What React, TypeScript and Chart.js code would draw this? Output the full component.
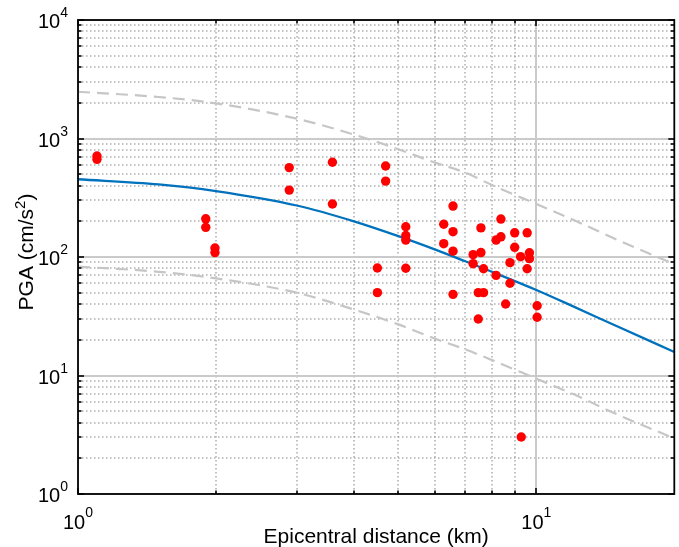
import React, { useEffect, useRef } from "react";
import { Chart, registerables } from "chart.js";

Chart.register(...registerables);

// Observed PGA records: epicentral distance (km) and PGA (cm/s^2)
const distKm = [
  1.1, 1.1, 1.9, 1.9, 1.99, 1.99, 2.89, 2.89, 3.59, 3.59, 4.69, 4.69, 4.5, 4.5,
  5.19, 5.19, 5.19, 5.19, 6.28, 6.28, 6.58, 6.58, 6.58, 6.58, 7.28, 7.28, 7.57,
  7.57, 7.67, 7.47, 7.67, 7.47, 8.37, 8.37, 8.17, 8.17, 8.97, 8.97, 8.76, 8.76,
  8.57, 9.55, 9.24, 9.66, 9.66, 9.55, 10.04, 10.04, 9.27,
];
const pgaObs = [
  711, 667, 210, 178, 119, 109, 568, 367, 630, 280, 586, 437, 80.7, 50,
  180, 152, 139, 80.3, 189, 129.5, 269, 163.5, 112, 48.4, 104.6, 87.8, 176,
  109, 79.6, 50, 50, 30, 209, 148, 139, 70, 160, 120.7, 89.6, 60,
  40.1, 160, 100.6, 108.7, 96.8, 79.6, 38.8, 31, 3.03,
];

// Attenuation relation (median) and its +/- band
const curveDist = [1, 1.5, 2, 3, 4, 5, 6, 7, 8, 10, 12, 15, 20];
const curveMedian = [453, 410, 360, 272, 200, 150, 116, 92, 75, 52.7, 38.5, 26, 15.8];
const curveUpper = [2480, 2240, 1980, 1470, 1080, 812, 627, 515, 405, 280, 207, 140, 87];
const curveLower = [83, 75, 66, 50, 36, 27, 20.5, 16.6, 13.5, 9.4, 7.0, 4.7, 2.95];

// Axis ticks
const xMajorTicks = [1, 10];
const xMajorExp = ["0", "1"];
const xMinorTicks = [2, 3, 4, 5, 6, 7, 8, 9];
const yMajorTicks = [1, 10, 100, 1000, 10000];
const yMajorExp = ["0", "1", "2", "3", "4"];
const yMinorTicks = [
  2, 3, 4, 5, 6, 7, 8, 9,
  20, 30, 40, 50, 60, 70, 80, 90,
  200, 300, 400, 500, 600, 700, 800, 900,
  2000, 3000, 4000, 5000, 6000, 7000, 8000, 9000,
];

const xTitle = "Epicentral distance (km)";
const yTitleMain = "PGA (cm/s";
const yTitleSup = "2";
const yTitleEnd = ")";

const FONT = "'Liberation Sans', Arial, Helvetica, sans-serif";

const axesPlugin = {
  id: "matlabAxes",
  beforeDatasetsDraw(chart: any) {
    const { ctx, chartArea: a, scales } = chart;
    const xs = scales.x;
    const ys = scales.y;
    ctx.save();
    ctx.beginPath();
    ctx.rect(a.left, a.top, a.right - a.left, a.bottom - a.top);
    ctx.clip();
    // minor grid (dotted)
    ctx.strokeStyle = "rgba(140,140,140,0.7)";
    ctx.lineWidth = 1.5;
    ctx.setLineDash([1.5, 2.5]);
    for (const v of xMinorTicks) {
      const px = Math.round(xs.getPixelForValue(v));
      ctx.beginPath();
      ctx.moveTo(px, a.top);
      ctx.lineTo(px, a.bottom);
      ctx.stroke();
    }
    for (const v of yMinorTicks) {
      const py = Math.round(ys.getPixelForValue(v));
      ctx.beginPath();
      ctx.moveTo(a.left, py);
      ctx.lineTo(a.right, py);
      ctx.stroke();
    }
    // major grid (solid)
    ctx.setLineDash([]);
    ctx.strokeStyle = "#cacaca";
    ctx.lineWidth = 2;
    for (const v of xMajorTicks) {
      const px = Math.round(xs.getPixelForValue(v));
      ctx.beginPath();
      ctx.moveTo(px, a.top);
      ctx.lineTo(px, a.bottom);
      ctx.stroke();
    }
    for (const v of yMajorTicks) {
      const py = Math.round(ys.getPixelForValue(v));
      ctx.beginPath();
      ctx.moveTo(a.left, py);
      ctx.lineTo(a.right, py);
      ctx.stroke();
    }
    ctx.restore();
  },
  afterDatasetsDraw(chart: any) {
    const { ctx, chartArea: a, scales } = chart;
    const xs = scales.x;
    const ys = scales.y;
    ctx.save();
    ctx.strokeStyle = "#000";
    ctx.lineWidth = 1.6;
    const tick = (x1: number, y1: number, x2: number, y2: number) => {
      ctx.beginPath();
      ctx.moveTo(x1, y1);
      ctx.lineTo(x2, y2);
      ctx.stroke();
    };
    const MAJ = 6;
    const MIN = 3.5;
    for (const v of xMajorTicks) {
      const px = Math.round(xs.getPixelForValue(v));
      tick(px, a.bottom, px, a.bottom - MAJ);
      tick(px, a.top, px, a.top + MAJ);
    }
    for (const v of xMinorTicks) {
      const px = Math.round(xs.getPixelForValue(v));
      tick(px, a.bottom, px, a.bottom - MIN);
      tick(px, a.top, px, a.top + MIN);
    }
    for (const v of yMajorTicks) {
      const py = Math.round(ys.getPixelForValue(v));
      tick(a.left, py, a.left + MAJ, py);
      tick(a.right, py, a.right - MAJ, py);
    }
    for (const v of yMinorTicks) {
      const py = Math.round(ys.getPixelForValue(v));
      tick(a.left, py, a.left + MIN, py);
      tick(a.right, py, a.right - MIN, py);
    }
    // frame
    ctx.lineWidth = 1.8;
    ctx.strokeRect(a.left, a.top, a.right - a.left, a.bottom - a.top);

    // tick labels
    ctx.fillStyle = "#000";
    const big = `20px ${FONT}`;
    const small = `14px ${FONT}`;
    const title = `21px ${FONT}`;
    const titleSmall = `15px ${FONT}`;
    yMajorTicks.forEach((v, i) => {
      const py = ys.getPixelForValue(v);
      const right = a.left - 10;
      ctx.font = small;
      const ew = ctx.measureText(yMajorExp[i]).width;
      ctx.textAlign = "left";
      ctx.textBaseline = "alphabetic";
      ctx.fillText(yMajorExp[i], right - ew, py - 3);
      ctx.font = big;
      ctx.textAlign = "right";
      ctx.fillText("10", right - ew, py + 8);
    });
    xMajorTicks.forEach((v, i) => {
      const px = xs.getPixelForValue(v);
      ctx.font = big;
      const bw = ctx.measureText("10").width;
      ctx.font = small;
      const ew = ctx.measureText(xMajorExp[i]).width;
      const start = px - (bw + ew) / 2;
      ctx.font = big;
      ctx.textAlign = "left";
      ctx.textBaseline = "alphabetic";
      ctx.fillText("10", start, a.bottom + 35);
      ctx.font = small;
      ctx.fillText(xMajorExp[i], start + bw, a.bottom + 23);
    });
    // x title
    ctx.font = title;
    ctx.textAlign = "center";
    ctx.textBaseline = "alphabetic";
    ctx.fillText(xTitle, (a.left + a.right) / 2, a.bottom + 49);
    // y title (rotated)
    ctx.save();
    ctx.translate(33, (a.top + a.bottom) / 2 - 5);
    ctx.rotate(-Math.PI / 2);
    ctx.font = title;
    const w1 = ctx.measureText(yTitleMain).width;
    const w3 = ctx.measureText(yTitleEnd).width;
    ctx.font = titleSmall;
    const w2 = ctx.measureText(yTitleSup).width;
    const total = w1 + w2 + w3;
    let cx = -total / 2;
    ctx.textAlign = "left";
    ctx.font = title;
    ctx.fillText(yTitleMain, cx, 0);
    cx += w1;
    ctx.font = titleSmall;
    ctx.fillText(yTitleSup, cx, -8);
    cx += w2;
    ctx.font = title;
    ctx.fillText(yTitleEnd, cx, 0);
    ctx.restore();
    ctx.restore();
  },
};

export default function App() {
  const ref = useRef<HTMLCanvasElement | null>(null);
  useEffect(() => {
    if (!ref.current) return;
    const pts = distKm.map((d, i) => ({ x: d, y: pgaObs[i] }));
    const med = curveDist.map((d, i) => ({ x: d, y: curveMedian[i] }));
    const up = curveDist.map((d, i) => ({ x: d, y: curveUpper[i] }));
    const lo = curveDist.map((d, i) => ({ x: d, y: curveLower[i] }));
    const dashed = {
      showLine: true,
      pointRadius: 0,
      borderColor: "#c6c6c6",
      borderWidth: 2.2,
      borderDash: [12, 7],
      cubicInterpolationMode: "monotone",
      order: 3,
    };
    const chart = new Chart(ref.current, {
      type: "scatter",
      data: {
        datasets: [
          {
            label: "Observed",
            data: pts,
            pointRadius: 4.7,
            pointBackgroundColor: "#ff0000",
            pointBorderWidth: 0,
            borderColor: "#ff0000",
            showLine: false,
            order: 0,
          },
          {
            label: "Median",
            data: med,
            showLine: true,
            pointRadius: 0,
            borderColor: "#0072BD",
            borderWidth: 2.3,
            cubicInterpolationMode: "monotone",
            order: 1,
          },
          { label: "Upper", data: up, ...dashed } as any,
          { label: "Lower", data: lo, ...dashed } as any,
        ],
      },
      options: {
        animation: false,
        responsive: true,
        maintainAspectRatio: false,
        devicePixelRatio: 1,
        layout: { padding: { left: 78, top: 20, right: 3, bottom: 53 } },
        plugins: {
          legend: { display: false },
          tooltip: { enabled: false },
        },
        events: [],
        scales: {
          x: { type: "logarithmic", min: 1, max: 20, display: false },
          y: { type: "logarithmic", min: 1, max: 10000, display: false },
        },
      },
      plugins: [axesPlugin],
    });
    return () => chart.destroy();
  }, []);
  return (
    <div style={{ position: "absolute", left: 0, top: 0, width: 679, height: 547, background: "#fff" }}>
      <canvas ref={ref} />
    </div>
  );
}
